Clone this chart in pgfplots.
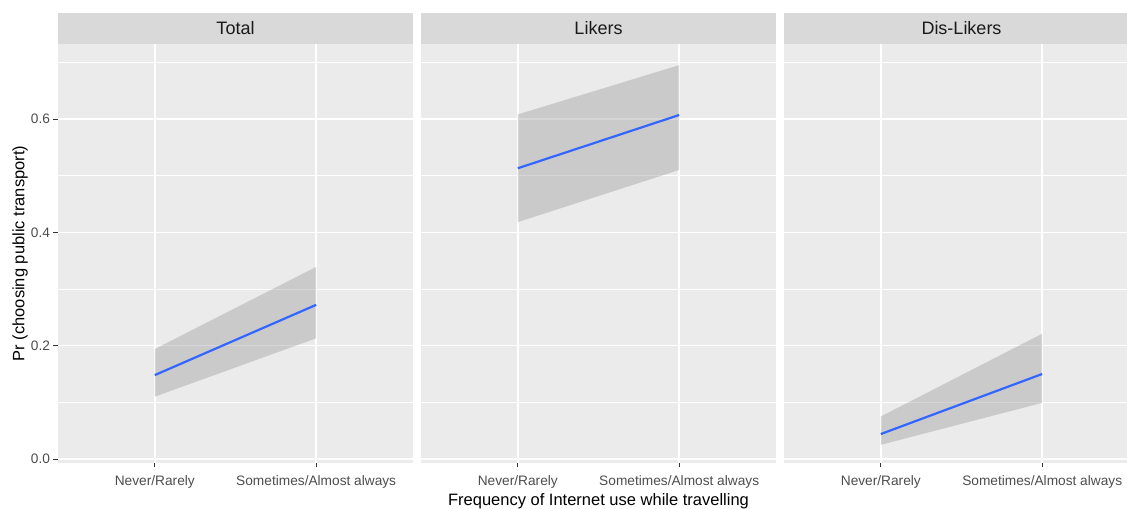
\documentclass[border=0pt]{standalone}
\usepackage{fontspec}
\setmainfont{Liberation Sans}
\usepackage{pgfplots}
\pgfplotsset{compat=1.18}
\usepackage{pgfplotstable}
\usepgfplotslibrary{fillbetween}

\definecolor{panelgray}{HTML}{EBEBEB}
\definecolor{stripgray}{HTML}{D9D9D9}
\definecolor{ticktext}{HTML}{4D4D4D}
\definecolor{tickline}{HTML}{333333}
\definecolor{stripText}{HTML}{1A1A1A}
\definecolor{fitblue}{HTML}{3366FF}

% x: 1 = Never/Rarely, 2 = Sometimes/Almost always
\pgfplotstableread{
x fit lo hi
1 0.148 0.110 0.194
2 0.272 0.213 0.339
}\total
\pgfplotstableread{
x fit lo hi
1 0.513 0.418 0.608
2 0.607 0.510 0.695
}\likers
\pgfplotstableread{
x fit lo hi
1 0.044 0.025 0.075
2 0.150 0.099 0.221
}\dislikers

\pgfplotsset{
  facet/.style={
    scale only axis, width=355bp, height=419bp,
    anchor=south west,
    xmin=0.4, xmax=2.6, ymin=-0.0071, ymax=0.7323,
    axis background/.style={fill=panelgray},
    axis line style={draw=none},
    xtick={1,2},
    xticklabels={Never/Rarely, Sometimes/Almost always},
    ytick={0,0.2,0.4,0.6},
    minor ytick={0.1,0.3,0.5,0.7},
    grid=both,
    major grid style={white, line width=1.6bp},
    minor grid style={white, line width=0.8bp},
    tick pos=left,
    tick align=outside,
    major tick length=4.5bp,
    minor tick length=0pt,
    tick style={tickline, line width=0.9bp},
    x tick label style={font=\fontsize{13.7bp}{16bp}\selectfont, text=ticktext, yshift=-5bp},
    y tick label style={font=\fontsize{13.7bp}{16bp}\selectfont, text=ticktext},
    /pgf/number format/assume math mode=true,
    yticklabel style={/pgf/number format/.cd, fixed, fixed zerofill, precision=1},
    every axis title shift=0pt,
    title style={at={(0.5,1)}, anchor=south,
      fill=stripgray, minimum width=355bp, minimum height=31bp, inner sep=0pt,
      font=\fontsize{18bp}{20bp}\selectfont, text=stripText},
    label style={font=\fontsize{16.5bp}{19bp}\selectfont, text=black},
    clip=false,
  },
  noy/.style={ymajorticks=false},
}

\newcommand{\facetplots}[1]{%
  \addplot[name path=lo, draw=none] table[x=x, y=lo] {#1};
  \addplot[name path=hi, draw=none] table[x=x, y=hi] {#1};
  \addplot[fill=black!40, fill opacity=0.4, draw=none] fill between[of=lo and hi];
  \addplot[fitblue, line width=2.2bp] table[x=x, y=fit] {#1};
}

\begin{document}
\begin{tikzpicture}

\begin{axis}[facet, at={(58bp,46bp)}, title={Total},
  ylabel={Pr (choosing public transport)},
  ylabel style={at={(axis description cs:-0.107,0.5)}, anchor=center}]
  \facetplots{\total}
\end{axis}

\begin{axis}[facet, noy, at={(421bp,46bp)}, title={Likers},
  xlabel={Frequency of Internet use while travelling},
  xlabel style={at={(axis description cs:0.5,-0.091)}, anchor=center}]
  \facetplots{\likers}
\end{axis}

\begin{axis}[facet, noy, at={(784bp,46bp)}, title={Dis-Likers}]
  \facetplots{\dislikers}
\end{axis}

\pgfresetboundingbox
\useasboundingbox (0,0) rectangle (1127bp,509bp);
\end{tikzpicture}
\end{document}
